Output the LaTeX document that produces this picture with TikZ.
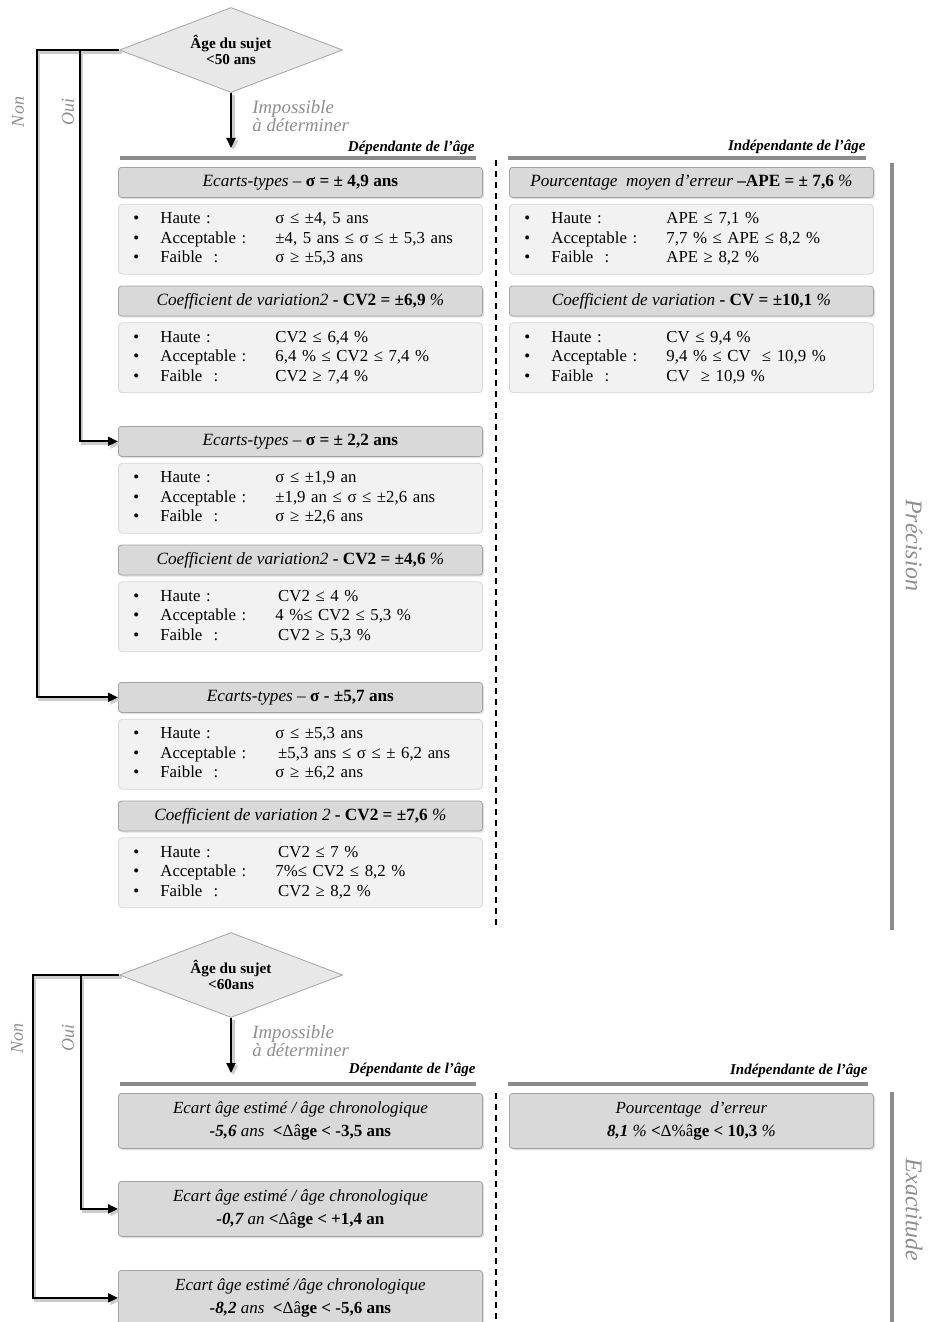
\documentclass[tikz,border=0pt]{standalone}
\usepackage{fontspec}
\setmainfont{Liberation Serif}
\usetikzlibrary{positioning, arrows.meta, shapes.geometric, shadows}

\definecolor{hdrgray}{HTML}{D9D9D9}
\definecolor{bodygray}{HTML}{F2F2F2}
\definecolor{diagray}{HTML}{E8E8E8}
\definecolor{edgegray}{HTML}{A3A3A3}
\definecolor{lightedge}{HTML}{D6D6D6}
\definecolor{rulegray}{HTML}{8C8C8C}
\definecolor{labelgray}{HTML}{8E8E8E}

\newcommand{\levels}[3]{%
  \begin{tabular}{@{}p{13.5pt}@{}p{57.5pt}@{}l@{}}
  \textbullet & Haute : & #1\\
  \textbullet & Acceptable : & #2\\
  \textbullet & Faible\ \ : & #3
  \end{tabular}}

\begin{document}
\begin{tikzpicture}[
    x=0.5pt, y=-0.5pt,
    node distance=3pt,
    hdr/.style={draw=edgegray, fill=hdrgray, rounded corners=1.5pt, minimum width=182pt, minimum height=15pt, inner sep=0pt, align=center, font=\fontsize{8.6}{9.6}\selectfont, drop shadow={shadow xshift=0.8pt, shadow yshift=-0.8pt, opacity=0.25}},
    crit/.style={draw=lightedge, fill=bodygray, rounded corners=2pt, minimum width=182pt, minimum height=35pt, inner xsep=7.5pt, inner ysep=0pt, text width=167pt, align=left, font=\fontsize{8.4}{9.75}\selectfont},
    result/.style={hdr, minimum height=27.5pt, font=\fontsize{8.5}{11.5}\selectfont},
    test/.style={diamond, aspect=2.6, draw=edgegray, fill=diagray, minimum width=111.5pt, minimum height=42.5pt, inner sep=0pt, align=center, font=\bfseries\fontsize{7.6}{8}\selectfont},
    arrow/.style={-{Triangle[length=5pt, width=4.5pt]}, line width=1pt, preaction={draw=black!20, line width=1.4pt, transform canvas={xshift=1.2pt, yshift=-1.2pt}}},
    note/.style={font=\itshape\fontsize{9.4}{9}\selectfont, text=labelgray, align=left, inner sep=0pt},
    branch/.style={font=\itshape\fontsize{9}{8}\selectfont, text=labelgray, rotate=90, inner sep=0pt},
    colhead/.style={font=\bfseries\itshape\fontsize{7.5}{8}\selectfont, inner sep=0pt},
    rulebar/.style={rulegray, line width=2pt},
    divider/.style={dash pattern=on 3pt off 2.5pt, line width=0.7pt},
    sidelabel/.style={font=\itshape\fontsize{12}{12}\selectfont, text=labelgray, rotate=-90, inner sep=0pt},
]
\useasboundingbox (0,0) rectangle (928,1322);

\node[test] (age50) at (231,50) {Âge du sujet\\<50 ans};
\coordinate (imp50) at (231,148);
\node[note, anchor=west] (nd50) at (252,116) {Impossible\\à déterminer};
\node[branch] (non50) at (18,112) {Non};
\node[branch] (oui50) at (68,112) {Oui};

\draw[rulebar] (120,158) -- (476,158);
\draw[rulebar] (508,158) -- (866,158);
\node[colhead, anchor=east] (dep50) at (475,148) {Dépendante de l’âge};
\node[colhead, anchor=east] (ind50) at (866,147) {Indépendante de l’âge};
\draw[divider] (496,160) -- (496,925);
\draw[rulebar] (892,163) -- (892,930);
\node[sidelabel] (prec) at (914,545) {Précision};

\node[hdr, anchor=north west] (sd1) at (118,167) {\textit{Ecarts-types} – \textbf{σ = ± 4,9 ans}};
\node[crit, below=of sd1] (sdl1) {\levels{σ ≤ ±4, 5 ans}{±4, 5 ans ≤ σ ≤ ± 5,3 ans}{σ ≥ ±5,3 ans}};
\node[hdr, below=5.5pt of sdl1] (cv1) {\textit{Coefficient de variation2} \textbf{- CV2 = ±6,9} \textit{\%}};
\node[crit, below=of cv1] (cvl1) {\levels{CV2 ≤ 6,4 \%}{6,4 \% ≤ CV2 ≤ 7,4 \%}{CV2 ≥ 7,4 \%}};

\node[hdr, anchor=north west] (sd2) at (118,426) {\textit{Ecarts-types} – \textbf{σ = ± 2,2 ans}};
\node[crit, below=of sd2] (sdl2) {\levels{σ ≤ ±1,9 an}{±1,9 an ≤ σ ≤ ±2,6 ans}{σ ≥ ±2,6 ans}};
\node[hdr, below=5.5pt of sdl2] (cv2) {\textit{Coefficient de variation2} \textbf{- CV2 = ±4,6} \textit{\%}};
\node[crit, below=of cv2] (cvl2) {\levels{\,CV2 ≤ 4 \%}{4 \%≤ CV2 ≤ 5,3 \%}{\,CV2 ≥ 5,3 \%}};

\node[hdr, anchor=north west] (sd3) at (118,682) {\textit{Ecarts-types} – \textbf{σ - ±5,7 ans}};
\node[crit, below=of sd3] (sdl3) {\levels{σ ≤ ±5,3 ans}{\,±5,3 ans ≤ σ ≤ ± 6,2 ans}{σ ≥ ±6,2 ans}};
\node[hdr, below=5.5pt of sdl3] (cv3) {\textit{Coefficient de variation 2} \textbf{- CV2 = ±7,6} \textit{\%}};
\node[crit, below=of cv3] (cvl3) {\levels{\,CV2 ≤ 7 \%}{7\%≤ CV2 ≤ 8,2 \%}{\,CV2 ≥ 8,2 \%}};

\node[hdr, anchor=north west] (ape) at (509,167) {\textit{Pourcentage\ \ moyen d’erreur} \textbf{–APE = ± 7,6} \textit{\%}};
\node[crit, below=of ape] (apel) {\levels{APE ≤ 7,1 \%}{7,7 \% ≤ APE ≤ 8,2 \%}{APE ≥ 8,2 \%}};
\node[hdr, below=5.5pt of apel] (cv) {\textit{Coefficient de variation} \textbf{- CV = ±10,1} \textit{\%}};
\node[crit, below=of cv] (cvl) {\levels{CV ≤ 9,4 \%}{9,4 \% ≤ CV\ \ ≤ 10,9 \%}{CV\ \ ≥ 10,9 \%}};

\draw[arrow] (age50) -- (imp50);
\draw[arrow] (age50.west) -- ++(-82.5,0) |- (sd3.west);
\draw[arrow] (age50.west) -- ++(-39.5,0) |- (sd2.west);

\node[test] (age60) at (231,975) {Âge du sujet\\<60ans};
\coordinate (imp60) at (231,1073);
\node[note, anchor=west] (nd60) at (252,1041) {Impossible\\à déterminer};
\node[branch] (non60) at (17,1038) {Non};
\node[branch] (oui60) at (68,1038) {Oui};

\draw[rulebar] (120,1084) -- (476,1084);
\draw[rulebar] (508,1084) -- (868,1084);
\node[colhead, anchor=east] (dep60) at (476,1070) {Dépendante de l’âge};
\node[colhead, anchor=east] (ind60) at (868,1071) {Indépendante de l’âge};
\draw[divider] (496,1093) -- (496,1322);
\draw[rulebar] (892,1092) -- (892,1322);
\node[sidelabel] (exact) at (914,1210) {Exactitude};

\node[result, anchor=north west] (gap1) at (118,1093) {\textit{Ecart âge estimé / âge chronologique}\\\textit{\textbf{-5,6} ans}\ \ \textbf{<}Δâ\textbf{ge < -3,5 ans}};
\node[result, anchor=north west] (gap2) at (118,1181) {\textit{Ecart âge estimé / âge chronologique}\\\textit{\textbf{-0,7} an} \textbf{<}Δâ\textbf{ge < +1,4 an}};
\node[result, anchor=north west] (gap3) at (118,1270) {\textit{Ecart âge estimé /âge chronologique}\\\textit{\textbf{-8,2} ans}\ \ \textbf{<}Δâ\textbf{ge < -5,6 ans}};
\node[result, anchor=north west] (pct) at (509,1093) {\textit{Pourcentage\ \ d’erreur}\\\textit{\textbf{8,1} \%} \textbf{<}Δ\%â\textbf{ge < 10,3} \textit{\%}};

\draw[arrow] (age60) -- (imp60);
\draw[arrow] (age60.west) -- ++(-86.5,0) |- (gap3.west);
\draw[arrow] (age60.west) -- ++(-38.5,0) |- (gap2.west);
\end{tikzpicture}
\end{document}
